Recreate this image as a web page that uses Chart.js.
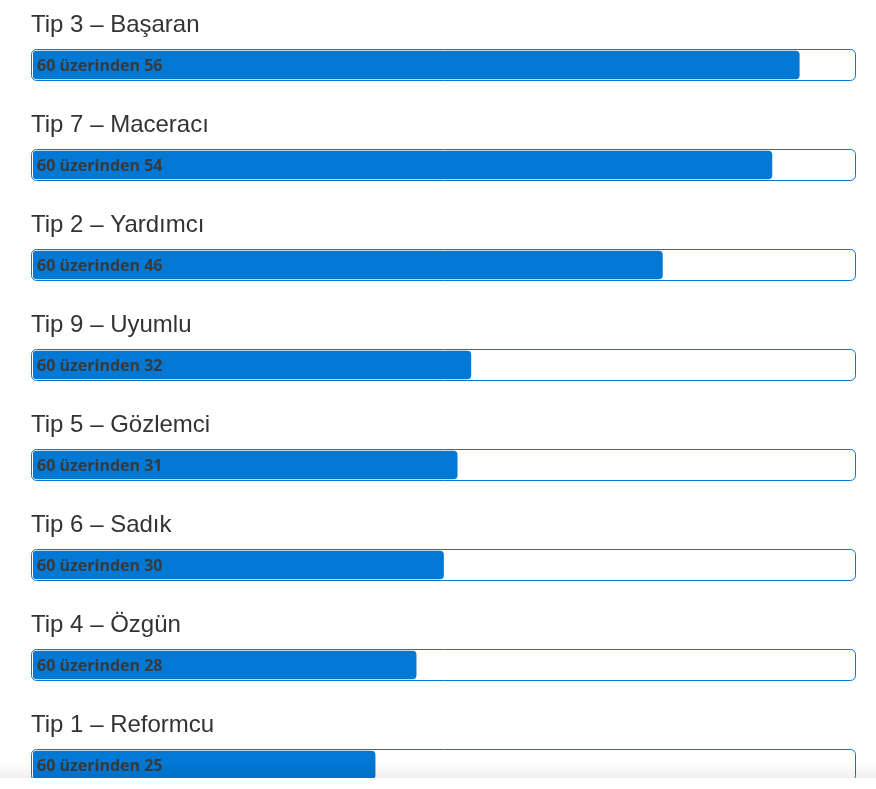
<!DOCTYPE html>
<html lang="tr">
<head>
<meta charset="utf-8">
<title>Tip Sonuçları</title>
<script src="https://cdn.jsdelivr.net/npm/chart.js@4/dist/chart.umd.min.js"></script>
<style>
    html, body {
        margin: 0;
        padding: 0;
        background: #fff;
        width: 876px;
        height: 789px;
        overflow: hidden;
    }
    .wrap {
        position: absolute;
        left: 0;
        top: 0;
        width: 876px;
        height: 815px;
    }
    .shade {
        position: absolute;
        left: 0;
        top: 762px;
        width: 876px;
        height: 16px;
        background: linear-gradient(rgba(0, 0, 0, 0), rgba(0, 0, 0, 0.06));
    }
    .footer {
        position: absolute;
        left: 0;
        top: 778px;
        width: 876px;
        height: 11px;
        background: #fff;
    }
</style>
</head>
<body>
<div class="wrap"><canvas id="myChart" width="876" height="815"></canvas></div>
<div class="shade"></div>
<div class="footer"></div>
<script>
// #region data
const types = ['Tip 3 – Başaran', 'Tip 7 – Maceracı', 'Tip 2 – Yardımcı', 'Tip 9 – Uyumlu',
    'Tip 5 – Gözlemci', 'Tip 6 – Sadık', 'Tip 4 – Özgün', 'Tip 1 – Reformcu'];
const scores = [56, 54, 46, 32, 31, 30, 28, 25];
const maxScore = 60;
// #endregion data

const
    blue = '#0078d4',
    textColor = '#333333',
    labelColor = '#3a3a3a';

const graph = document.querySelector('#myChart');

// white track with blue outline behind each bar, plus the title above it
const trackPlugin = {
    id: 'tracks',
    beforeDatasetsDraw(chart) {
        const ctx = chart.ctx,
            x = chart.scales.x,
            y = chart.scales.y;
        const left = x.getPixelForValue(0) - 1.5,
            right = x.getPixelForValue(maxScore) + 1.5;

        ctx.save();
        types.forEach((t, i) => {
            const cy = y.getPixelForValue(i);
            ctx.beginPath();
            ctx.roundRect(left, cy - 15.5, right - left, 31, 5);
            ctx.fillStyle = '#fff';
            ctx.fill();
            ctx.lineWidth = 1;
            ctx.strokeStyle = blue;
            ctx.stroke();

            ctx.font = '24px "Liberation Sans", Arial, sans-serif';
            ctx.fillStyle = textColor;
            ctx.textBaseline = 'alphabetic';
            ctx.fillText(t, 31, cy - 33);
        });
        ctx.restore();
    },
    afterDatasetsDraw(chart) {
        const ctx = chart.ctx,
            y = chart.scales.y;

        ctx.save();
        ctx.font = 'bold 16px "Open Sans", sans-serif';
        ctx.fillStyle = labelColor;
        ctx.textBaseline = 'alphabetic';
        scores.forEach((v, i) => {
            const cy = y.getPixelForValue(i);
            ctx.fillText(`${maxScore} üzerinden ${v}`, 37, cy + 5.5);
        });
        ctx.restore();
    }
};

function graphrender() {
    const ctx = graph.getContext('2d');

    new Chart(ctx, {
        type: 'bar',
        data: {
            labels: types,
            datasets: [{
                data: scores,
                backgroundColor: blue,
                borderWidth: 0,
                borderRadius: 4,
                borderSkipped: false,
                barThickness: 28
            }]
        },
        options: {
            indexAxis: 'y',
            responsive: false,
            animation: false,
            devicePixelRatio: 1,
            layout: {
                padding: { left: 33, right: 22, top: 15, bottom: 0 }
            },
            plugins: {
                legend: { display: false },
                tooltip: { enabled: false }
            },
            scales: {
                x: { display: false, min: 0, max: maxScore },
                y: { display: false }
            }
        },
        plugins: [trackPlugin]
    });
}

function render() {
    graphrender();
}

render();
</script>
</body>
</html>
